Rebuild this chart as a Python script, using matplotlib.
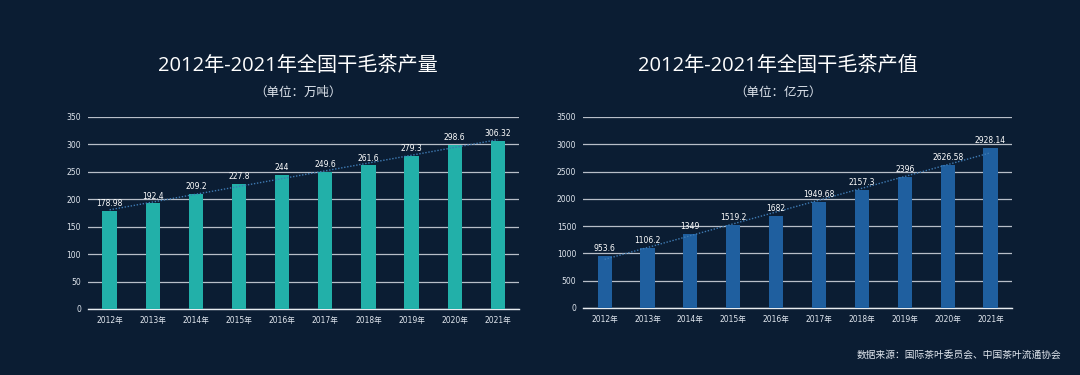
import matplotlib
matplotlib.use("Agg")
import matplotlib.pyplot as plt
import numpy as np

plt.rcParams['font.family'] = ['DejaVu Sans', 'Noto Sans CJK SC']

years = ['2012年', '2013年', '2014年', '2015年', '2016年',
         '2017年', '2018年', '2019年', '2020年', '2021年']
output = [178.98, 192.4, 209.2, 227.8, 244, 249.6, 261.6, 279.3, 298.6, 306.32]
output_labels = ['178.98', '192.4', '209.2', '227.8', '244',
                 '249.6', '261.6', '279.3', '298.6', '306.32']
value = [953.6, 1106.2, 1349, 1519.2, 1682, 1949.68, 2157.3, 2396, 2626.58, 2928.14]
value_labels = ['953.6', '1106.2', '1349', '1519.2', '1682',
                '1949.68', '2157.3', '2396', '2626.58', '2928.14']

bg = '#0b1d33'
title_font = ['Open Sans', 'Noto Sans CJK SC']
cjk_font = ['Noto Sans CJK SC', 'DejaVu Sans']
fig = plt.figure(figsize=[10.8, 3.75], dpi=100, facecolor=bg)

def draw(rect, data, labels, color, ymax, step, title, sub, cx):
    ax = fig.add_axes(rect)
    ax.set_facecolor(bg)
    x = np.arange(len(data))
    ax.bar(x, data, width=0.33, color=color, zorder=3)
    # 线性趋势线
    k, b = np.polyfit(x, data, 1)
    ax.plot(x, k * x + b, linestyle=(0, (1, 1.2)), color='#3f7bb3', linewidth=1.0, zorder=4)
    for xi, v, t in zip(x, data, labels):
        ax.text(xi, v + ymax * 0.015, t, ha='center', va='bottom',
                fontsize=5.5, color='white', zorder=5)
    ax.set_xlim(-0.5, len(data) - 0.5)
    ax.set_ylim(0, ymax)
    ax.set_yticks(np.arange(0, ymax + 1, step))
    ax.set_xticks(x)
    ax.set_xticklabels(years)
    ax.tick_params(colors='#e0e6ee', labelsize=5.5, length=0, pad=5)
    ax.grid(axis='y', color='#b8bec8', linewidth=0.9, zorder=0)
    for s in ['top', 'right', 'left']:
        ax.spines[s].set_visible(False)
    ax.spines['bottom'].set_color('#e8ecf0')
    ax.spines['bottom'].set_linewidth(1.0)
    fig.text(cx, 0.823, title, ha='center', va='center', fontsize=14.5,
             color='white', fontweight='medium', family=title_font)
    fig.text(cx, 0.755, sub, ha='center', va='center', fontsize=9,
             color='#e0e6ee', family=cjk_font)
    return ax

draw([0.0815, 0.176, 0.3995, 0.512], output, output_labels, '#22b0a9', 350, 50,
     '2012年-2021年全国干毛茶产量', '（单位：万吨）', 0.276)
draw([0.540, 0.179, 0.397, 0.509], value, value_labels, '#1f5f9f', 3500, 500,
     '2012年-2021年全国干毛茶产值', '（单位：亿元）', 0.72)

fig.text(0.983, 0.053, '数据来源：国际茶叶委员会、中国茶叶流通协会', ha='right',
         va='center', fontsize=7, color='#e0e6ee', family=cjk_font)

plt.savefig('out.png', dpi=100, facecolor=bg)
